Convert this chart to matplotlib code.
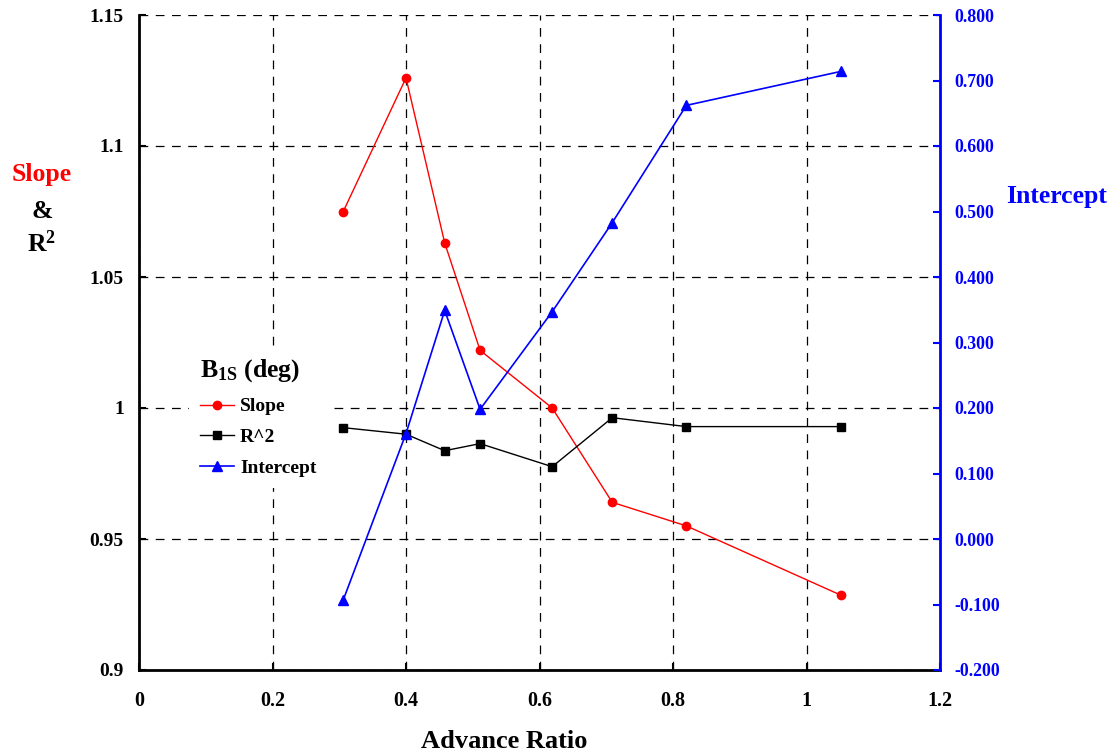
import matplotlib
matplotlib.use("Agg")
from matplotlib import pyplot as plt
from matplotlib.lines import Line2D

# Data
advance_ratio = [0.306, 0.40, 0.458, 0.511, 0.619, 0.709, 0.82, 1.052]
slope = [1.075, 1.126, 1.063, 1.022, 1.000, 0.964, 0.955, 0.9285]
r_squared = [0.9925, 0.990, 0.9837, 0.9864, 0.9776, 0.9963, 0.9929, 0.9929]
intercept = [-0.093, 0.161, 0.349, 0.198, 0.347, 0.483, 0.662, 0.714]

x_ticks = [0, 0.2, 0.4, 0.6, 0.8, 1.0, 1.2]
x_tick_labels = ['0', '0.2', '0.4', '0.6', '0.8', '1', '1.2']
left_ticks = [0.9, 0.95, 1.0, 1.05, 1.1, 1.15]
left_tick_labels = ['0.9', '0.95', '1', '1.05', '1.1', '1.15']
right_ticks = [-0.2, -0.1, 0.0, 0.1, 0.2, 0.3, 0.4, 0.5, 0.6, 0.7, 0.8]

plt.rcParams['font.family'] = ['Liberation Serif', 'DejaVu Serif']
plt.rcParams['font.weight'] = 'bold'
plt.rcParams['mathtext.fontset'] = 'custom'
plt.rcParams['mathtext.rm'] = 'Liberation Serif:bold'
plt.rcParams['mathtext.bf'] = 'Liberation Serif:bold'
plt.rcParams['mathtext.it'] = 'Liberation Serif:bold'

fig = plt.figure(figsize=(11.15, 7.53), dpi=100)
ax = fig.add_axes([139 / 1115, 1 - 670 / 753, (940 - 139) / 1115, (670 - 15) / 753])
ax2 = ax.twinx()

ax.plot(advance_ratio, slope, color='red', lw=1, marker='o', ms=6, label='Slope')
ax.plot(advance_ratio, r_squared, color='black', lw=1, marker='s', ms=5.5, label='R^2')
ax2.plot(advance_ratio, intercept, color='blue', lw=1.2, marker='^', ms=7, label='Intercept')

ax.set_xlim(0, 1.2)
ax.set_ylim(0.9, 1.15)
ax2.set_ylim(-0.2, 0.8)

ax.set_xticks(x_ticks)
ax.set_xticklabels(x_tick_labels)
ax.set_yticks(left_ticks)
ax.set_yticklabels(left_tick_labels)
ax2.set_yticks(right_ticks)
ax2.set_yticklabels(['%.3f' % v for v in right_ticks])

ax.grid(True, color='black', linestyle=(0, (7, 6)), lw=0.9)
ax.set_axisbelow(True)

ax.spines['top'].set_visible(False)
ax2.spines['top'].set_visible(False)
ax.spines['right'].set_visible(False)
ax.spines['left'].set_linewidth(2)
ax.spines['bottom'].set_linewidth(2)
ax2.spines['left'].set_visible(False)
ax2.spines['bottom'].set_visible(False)
ax2.spines['right'].set_color('blue')
ax2.spines['right'].set_linewidth(2)

ax.tick_params(axis='x', direction='in', length=5, width=1.5, labelsize=14.5, pad=15)
ax.tick_params(axis='y', direction='in', length=5, width=1.5, labelsize=14, pad=11)
ax2.tick_params(axis='y', direction='in', length=5, width=1.5, colors='blue',
                labelsize=12.8, labelcolor='blue', pad=10)

fig.text(504 / 1115, 1 - 741 / 753, 'Advance Ratio', fontsize=19,
         fontweight='bold', ha='center', va='center')

fig.text(42 / 1115, 1 - 175 / 753, 'Slope', color='red', fontsize=18.5,
         fontweight='bold', ha='center', va='center')
fig.text(42 / 1115, 1 - 211 / 753, '&', color='black', fontsize=18.5,
         fontweight='bold', ha='center', va='center')
fig.text(42 / 1115, 1 - 244 / 753, r'R$^\mathbf{2}$', color='black', fontsize=18.5,
         fontweight='bold', ha='center', va='center')
fig.text(1057 / 1115, 1 - 197 / 753, 'Intercept', color='blue', fontsize=18.5,
         fontweight='bold', ha='center', va='center')

handles = [
    Line2D([], [], color='red', lw=1, marker='o', ms=6),
    Line2D([], [], color='black', lw=1, marker='s', ms=5.5),
    Line2D([], [], color='blue', lw=1.2, marker='^', ms=7),
]
# white box without border, hides the grid behind it
leg = ax.legend(handles, ['Slope', 'R^2', 'Intercept'], loc='upper left',
                bbox_to_anchor=(0.063, 0.494), frameon=True, fancybox=False,
                facecolor='white', edgecolor='none', framealpha=1, fontsize=14,
                title=r'B$_{\mathbf{1S}}$ (deg)',
                title_fontproperties={'size': 18.5, 'weight': 'bold'},
                borderpad=0.55, borderaxespad=0,
                handlelength=1.75, labelspacing=0.68, handletextpad=0.3,
                alignment='left')
leg._legend_box.sep = 10
leg.set_zorder(5)

fig.savefig('out.png', dpi=100)
